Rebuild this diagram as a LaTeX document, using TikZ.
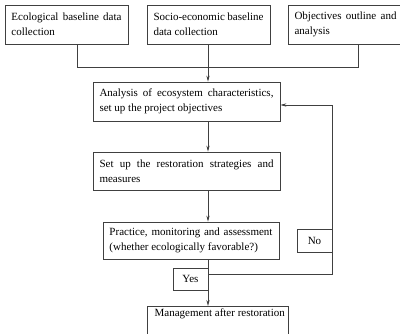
\documentclass[tikz,border=0pt]{standalone}
\usepackage{fontspec}
\setmainfont{Liberation Serif}
\usetikzlibrary{arrows.meta,calc}
\hyphenpenalty=10000
\exhyphenpenalty=10000
\begin{document}
\begin{tikzpicture}[x=1pt,y=-1pt,
  box/.style={draw=black!75,line width=0.7pt,rectangle,inner xsep=6.5pt,inner ysep=2pt,align=justify,font=\fontsize{11}{15}\selectfont},
  small/.style={draw=black!75,line width=0.7pt,rectangle,inner sep=0pt,align=center,font=\fontsize{11}{12}\selectfont},
  conn/.style={draw=black!75,line width=0.7pt},
  arr/.style={conn,-{Stealth[length=6pt,width=3.2pt]}}]
\useasboundingbox (0,0) rectangle (400,334);
\clip (0,0) rectangle (400,334);
\fill[white] (0,0) rectangle (400,334);
\node[box,minimum width=123pt,minimum height=39pt,text width=110pt] (b1) at (66.5,24.5) {Ecological baseline data collection};
\node[box,minimum width=123pt,minimum height=39pt,text width=110pt] (b2) at (208.5,24.5) {Socio-economic baseline data collection};
\node[box,minimum width=115pt,minimum height=39pt,text width=102pt] (b3) at (345.5,24.5) {Objectives outline and analysis};
\node[box,minimum width=187pt,minimum height=39pt,text width=174pt] (b4) at (186.5,101.5) {Analysis of ecosystem characteristics, set up the project objectives};
\node[box,minimum width=187pt,minimum height=38pt,text width=174pt] (b5) at (186.5,171) {Set up the restoration strategies and measures};
\node[box,minimum width=176pt,minimum height=37pt,text width=163pt] (b6) at (191,240.5) {Practice, monitoring and assessment (whether ecologically favorable?)};
\node[small,minimum width=35pt,minimum height=23pt] (no) at (314.5,240.5) {No};
\node[small,minimum width=35pt,minimum height=22pt] (yes) at (190.5,279) {Yes};
\node[draw=black!75,line width=0.7pt,rectangle,minimum width=141pt,minimum height=40pt,anchor=north west,inner sep=0pt] (m) at (147,306) {};
\node[anchor=north west,inner sep=0pt,font=\fontsize{11}{12}\selectfont] (mt) at ($(m.north west)+(7.5,3)$) {Management after restoration};
\coordinate (sp) at (208,0);
\coordinate (j1) at (77,67);
\coordinate (j3) at (358,67);
\coordinate (fb) at (332,274);
\coordinate (fbt) at (332,105);
\draw[conn] (b1.south -| j1) -- (j1) -- (j3) -- (b3.south -| j3);
\draw[arr] (b2.south -| sp) -- (b4.north -| sp);
\draw[arr] (b4.south -| sp) -- (b5.north -| sp);
\draw[arr] (b5.south -| sp) -- (b6.north -| sp);
\draw[arr] (b6.south -| sp) -- (m.north -| sp);
\draw[arr] (sp |- fb) -- (fb) -- (fbt) -- (b4.east |- fbt);
\end{tikzpicture}
\end{document}
